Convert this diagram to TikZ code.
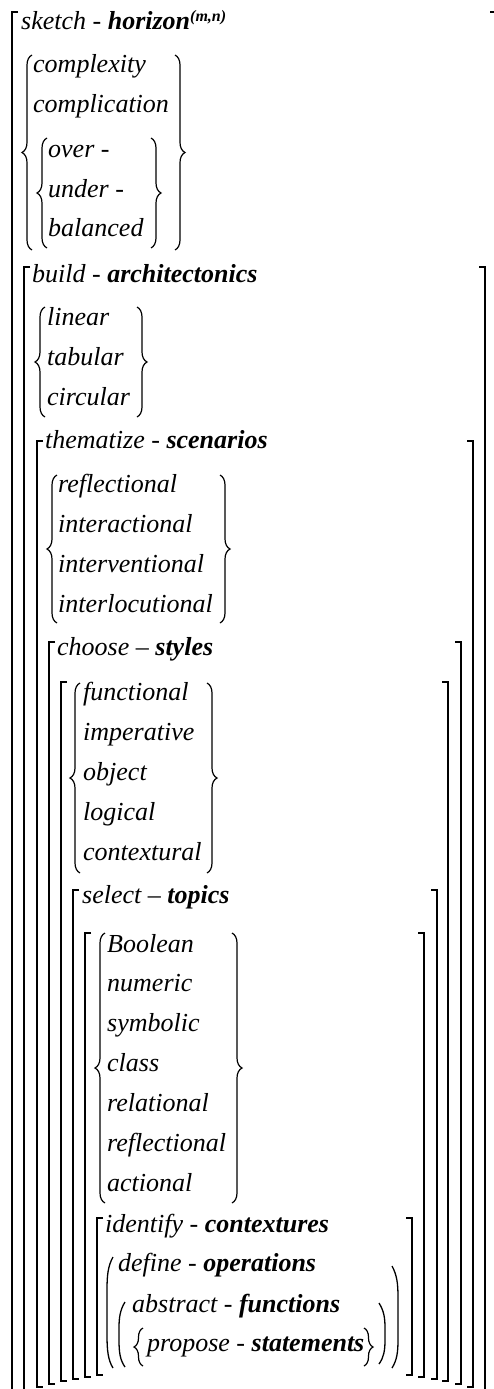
\documentclass[tikz,border=0pt]{standalone}
\usepackage{fontspec}
\setmainfont{Liberation Serif}
\usepackage{tikz}
\usetikzlibrary{decorations.pathreplacing}

\begin{document}
\begin{tikzpicture}[
    x=1pt, y=-1pt,
    word/.style={anchor=base west, inner sep=0pt, font=\fontsize{26}{30}\selectfont\itshape},
    bar/.style={line width=1.7pt, line cap=butt, line join=miter},
    curly/.style={decorate, decoration={brace, amplitude=10pt}, line width=1.2pt},
    paren/.style={line width=1.3pt},
  ]
  \useasboundingbox (0,0) rectangle (494,1389);

  % level 0
  \node[word] (sketch) at (21,30) {sketch - \textbf{horizon}\raisebox{8pt}{\fontsize{16}{16}\selectfont\textbf{(m,n)}}};
  \node[word] (cplx) at (33,72) {complexity};
  \node[word] (cmpl) at (33,112) {complication};
  \node[word] (over) at (48,157) {over -};
  \node[word] (under) at (48,197) {under -};
  \node[word] (bal) at (48,236) {balanced};

  % level 1
  \node[word] (build) at (32,282) {build - \textbf{architectonics}};
  \node[word] (lin) at (47,325) {linear};
  \node[word] (tab) at (47,365) {tabular};
  \node[word] (circ) at (47,405) {circular};

  % level 2
  \node[word] (thema) at (45,448) {thematize - \textbf{scenarios}};
  \node[word] (refl) at (58,492) {reflectional};
  \node[word] (inter) at (58,532) {interactional};
  \node[word] (interv) at (58,572) {interventional};
  \node[word] (interl) at (58,612) {interlocutional};

  % level 3
  \node[word] (choose) at (57,655) {choose – \textbf{styles}};
  \node[word] (func) at (83,700) {functional};
  \node[word] (imper) at (83,740) {imperative};
  \node[word] (obj) at (83,780) {object};
  \node[word] (logic) at (83,820) {logical};
  \node[word] (ctxl) at (83,860) {contextural};

  % level 5
  \node[word] (select) at (82,903) {select – \textbf{topics}};
  \node[word] (bool) at (107,952) {Boolean};
  \node[word] (num) at (107,991) {numeric};
  \node[word] (sym) at (107,1031) {symbolic};
  \node[word] (cls) at (107,1071) {class};
  \node[word] (rel) at (107,1111) {relational};
  \node[word] (refl2) at (107,1151) {reflectional};
  \node[word] (act) at (107,1191) {actional};

  % level 7
  \node[word] (ident) at (105,1232) {identify - \textbf{contextures}};
  \node[word] (define) at (118,1271) {define - \textbf{operations}};
  \node[word] (abstr) at (132,1312) {abstract - \textbf{functions}};
  \node[word] (prop) at (147,1351) {propose - \textbf{statements}};

  % square brackets
  \draw[bar] (18,12) -- (12,12) -- (12,1393);
  \draw[bar] (490,12) -- (495.5,12) -- (495.5,1393);
  \draw[bar] (30,267) -- (24,267) -- (24,1393);
  \draw[bar] (479,267) -- (485,267) -- (485,1393);
  \draw[bar] (43,441) -- (37,441) -- (37,1387) -- (43,1387);
  \draw[bar] (467,441) -- (473,441) -- (473,1387) -- (467,1387);
  \draw[bar] (55,642) -- (49,642) -- (49,1384) -- (55,1384);
  \draw[bar] (455,642) -- (461,642) -- (461,1384) -- (455,1384);
  \draw[bar] (67,682) -- (61,682) -- (61,1381) -- (67,1381);
  \draw[bar] (442,682) -- (448,682) -- (448,1381) -- (442,1381);
  \draw[bar] (79,890) -- (73,890) -- (73,1379) -- (79,1379);
  \draw[bar] (431,890) -- (437,890) -- (437,1379) -- (431,1379);
  \draw[bar] (91,933) -- (85,933) -- (85,1377) -- (91,1377);
  \draw[bar] (418,933) -- (424,933) -- (424,1377) -- (418,1377);
  \draw[bar] (103,1218) -- (97,1218) -- (97,1375) -- (103,1375);
  \draw[bar] (406,1218) -- (412,1218) -- (412,1375) -- (406,1375);

  % curly braces
  \draw[curly] (32,250) -- (32,55);
  \draw[curly] (175,55) -- (175,250);
  \draw[curly] (47,248) -- (47,138);
  \draw[curly] (151,138) -- (151,248);
  \draw[curly] (45,417) -- (45,307);
  \draw[curly] (137,307) -- (137,417);
  \draw[curly] (57,623) -- (57,475);
  \draw[curly] (220,475) -- (220,623);
  \draw[curly] (80,873) -- (80,683);
  \draw[curly] (207,683) -- (207,873);
  \draw[curly] (105,1203) -- (105,933);
  \draw[curly] (232,933) -- (232,1203);
  \draw[curly, decoration={amplitude=9pt}] (143,1366) -- (143,1328);
  \draw[curly, decoration={amplitude=9pt}] (364,1328) -- (364,1366);

  % parentheses
  \draw[paren] (113,1257) .. controls (108,1266) and (107,1275) .. (107,1290)
    -- (107,1335) .. controls (107,1350) and (108,1360) .. (113,1368);
  \draw[paren] (125,1302) .. controls (120,1310) and (119,1318) .. (119,1328)
    -- (119,1340) .. controls (119,1352) and (120,1360) .. (125,1367);
  \draw[paren] (392,1266) .. controls (397,1275) and (398,1284) .. (398,1297)
    -- (398,1340) .. controls (398,1352) and (397,1360) .. (392,1368);
  \draw[paren] (379,1303) .. controls (384,1311) and (385,1318) .. (385,1328)
    -- (385,1340) .. controls (385,1350) and (384,1357) .. (379,1364);
\end{tikzpicture}
\end{document}
